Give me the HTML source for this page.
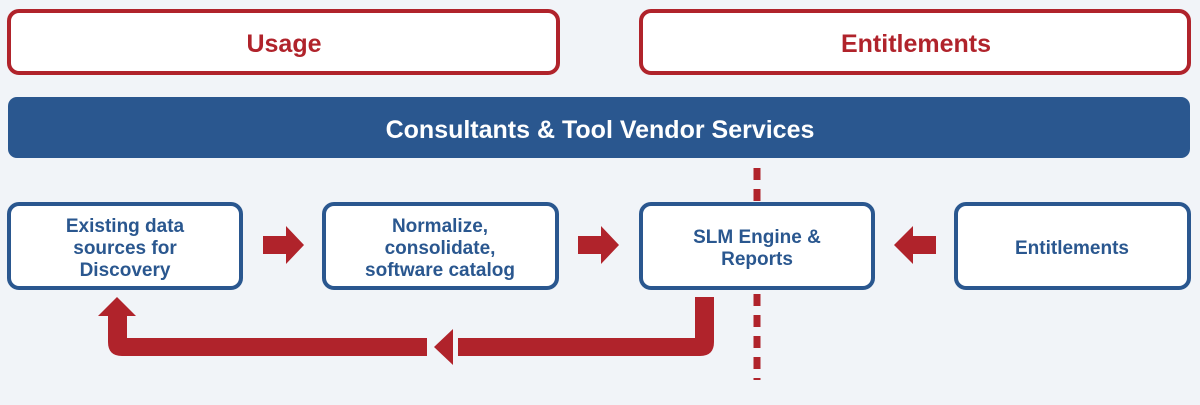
<!DOCTYPE html>
<html><head><meta charset="utf-8"><style>
html,body{margin:0;padding:0;background:#f1f4f8;}
svg{display:block;}
text{font-family:"Liberation Sans Narrow","Liberation Sans",sans-serif;font-weight:bold;text-anchor:middle;}
</style></head><body>
<svg width="1200" height="405" viewBox="0 0 1200 405" xmlns="http://www.w3.org/2000/svg">
<rect x="0" y="0" width="1200" height="405" fill="#f1f4f8"/>
<rect x="9" y="11" width="549" height="62" rx="10" fill="#fff" stroke="#b0232b" stroke-width="4"/>
<rect x="641" y="11" width="548" height="62" rx="10" fill="#fff" stroke="#b0232b" stroke-width="4"/>
<text x="284" y="52" font-size="25" fill="#b0232b">Usage</text>
<text x="916" y="52" font-size="25" fill="#b0232b">Entitlements</text>
<rect x="8" y="97" width="1182" height="61" rx="9" fill="#2a578f"/>
<text x="600" y="138" font-size="25" fill="#fff">Consultants &amp; Tool Vendor Services</text>
<line x1="757" y1="168" x2="757" y2="380" stroke="#b0232b" stroke-width="7" stroke-dasharray="12,9"/>
<g fill="#fff" stroke="#2a578f" stroke-width="4">
<rect x="9" y="204" width="232" height="84" rx="10"/>
<rect x="324" y="204" width="233" height="84" rx="10"/>
<rect x="641" y="204" width="232" height="84" rx="10"/>
<rect x="956" y="204" width="233" height="84" rx="10"/>
</g>
<g font-size="19" fill="#2a578f">
<text x="125" y="232">Existing data</text>
<text x="125" y="254">sources for</text>
<text x="125" y="276">Discovery</text>
<text x="440" y="232">Normalize,</text>
<text x="440" y="254">consolidate,</text>
<text x="440" y="276">software catalog</text>
<text x="757" y="243">SLM Engine &amp;</text>
<text x="757" y="265">Reports</text>
<text x="1072" y="254">Entitlements</text>
</g>
<g fill="#b0232b">
<polygon points="263,236 286,236 286,226 304,245 286,264 286,254 263,254"/>
<polygon points="578,236 601,236 601,226 619,245 601,264 601,254 578,254"/>
<polygon points="936,236 913,236 913,226 894,245 913,264 913,254 936,254"/>
<path d="M695,297 L714,297 L714,342 Q714,356 700,356 L458,356 L458,338 L695,338 Z"/>
<polygon points="453,329 453,365 434,347"/>
<path d="M427,338 L427,356 L122,356 Q108,356 108,342 L108,316 L127,316 L127,338 Z"/>
<polygon points="98,316 117,297 136,316"/>
</g>
</svg>
</body></html>
